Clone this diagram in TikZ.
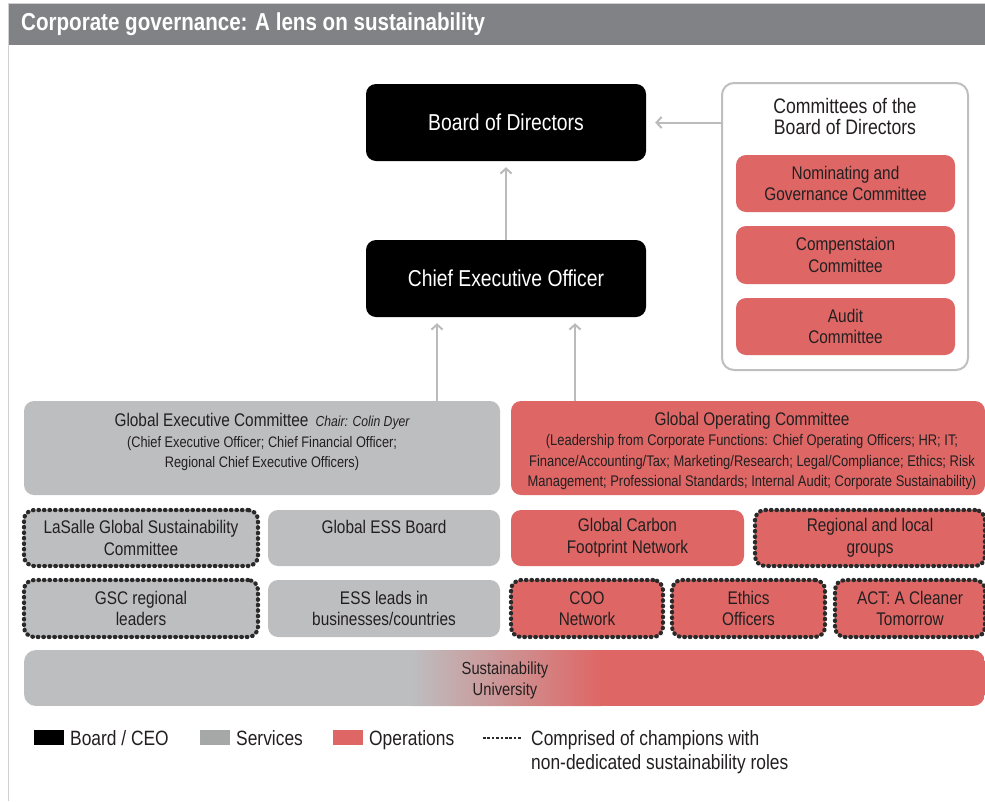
\documentclass[tikz,border=0pt]{standalone}
\usepackage{fontspec}
\setmainfont{Liberation Sans}[FakeStretch=0.84]
\usetikzlibrary{arrows.meta,calc}
\definecolor{redop}{HTML}{DE6766}
\definecolor{grsv}{HTML}{BDBEC0}
\definecolor{grleg}{HTML}{A6A8A8}
\definecolor{titlebar}{HTML}{808285}
\definecolor{arrgray}{HTML}{BBBBBB}
\definecolor{txt}{HTML}{231F20}
\definecolor{dotc}{HTML}{2A2A2A}
\begin{document}
\begin{tikzpicture}[x=1pt,y=-1pt,
  base/.style={rounded corners=10pt,align=center,text=txt,inner sep=2pt},
  blackbox/.style={base,fill=black,text=white,minimum width=280pt,minimum height=77pt,font=\fontsize{23}{26}\selectfont},
  redbox/.style={base,fill=redop,font=\fontsize{18.3}{21.5}\selectfont},
  graybox/.style={base,fill=grsv,font=\fontsize{18.3}{21.5}\selectfont},
  dotted border/.style={draw=dotc,line width=4.2pt,line cap=round,dash pattern=on 0.6pt off 4.9pt},
  arr/.style={draw=arrgray,line width=2pt,-{Straight Barb[length=5pt,width=11pt,line width=2pt]}},
  legtext/.style={anchor=base west,text=txt,font=\fontsize{20.7}{24.5}\selectfont,inner sep=0pt}
]
\useasboundingbox (0,0) rectangle (985,801);
% frame and title
\draw[draw=black!18,line width=1pt] (8.5,3) -- (8.5,801);
\draw[draw=black!18,line width=1pt] (8.5,3) -- (985,3);
\fill[titlebar] (9,4) rectangle (985,45);
\node[anchor=west,text=white,font=\bfseries\fontsize{24.5}{28}\selectfont,inner sep=0pt] (title) at (21,24) {Corporate governance: A lens on sustainability};

% board and ceo
\node[blackbox] (bod) at (506,122.5) {Board of Directors};
\node[blackbox] (ceo) at (506,278.5) {Chief Executive Officer};

% committees frame
\node[draw=black!25,line width=2pt,fill=white,rounded corners=12pt,minimum width=246pt,minimum height=287pt] (frame) at (845,226.5) {};
\node[align=center,text=txt,font=\fontsize{21}{21.5}\selectfont] (ftitle) at (845,116.5) {Committees of the\\Board of Directors};
\node[redbox,minimum width=219pt,minimum height=57pt] (nom) at (845.5,183.5) {Nominating and\\Governance Committee};
\node[redbox,minimum width=219pt,minimum height=58pt] (comp) at (845.5,255) {Compenstaion\\Committee};
\node[redbox,minimum width=219pt,minimum height=57pt] (aud) at (845.5,326.5) {Audit\\Committee};

% arrows
\draw[arr,shorten >=6pt] (ceo.north) -- (bod.south);
\coordinate (fl) at (frame.west |- bod.east);
\draw[arr,shorten >=9pt] (fl) -- (bod.east);

% global committees
\node[graybox,minimum width=476pt,minimum height=94pt] (gec) at (262,448) {};
\node[align=center,text=txt,inner sep=0pt,font=\fontsize{15.2}{20.5}\selectfont] (gectext) at (262,442)
 {{\fontsize{18.3}{20.5}\selectfont Global Executive Committee}\ \ {\itshape\fontsize{14.5}{20.5}\selectfont Chair: Colin Dyer}\\
  (Chief Executive Officer; Chief Financial Officer;\\
  Regional Chief Executive Officers)};
\node[redbox,minimum width=474pt,minimum height=94pt] (goc) at (748,448) {};
\node[align=center,text=txt,inner sep=0pt,font=\fontsize{15.4}{20.3}\selectfont] (goctext) at (752,451)
 {{\fontsize{18.3}{20.3}\selectfont Global Operating Committee}\\
  (Leadership from Corporate Functions: Chief Operating Officers; HR; IT;\\
  Finance/Accounting/Tax; Marketing/Research; Legal/Compliance; Ethics; Risk\\
  Management; Professional Standards; Internal Audit; Corporate Sustainability)};

\coordinate (g1) at (437,401);
\coordinate (g2) at (575,401);
\draw[arr,shorten >=6pt] (g1) -- (g1 |- ceo.south);
\draw[arr,shorten >=6pt] (g2) -- (g2 |- ceo.south);

% row 2
\node[graybox,minimum width=234pt,minimum height=56pt,dotted border] (lasalle) at (141,538) {LaSalle Global Sustainability\\Committee};
\node[graybox,minimum width=232pt,minimum height=56pt] (essb) at (384,538) {Global ESS Board\\\mbox{}};
\node[redbox,minimum width=233pt,minimum height=56pt] (carbon) at (627.5,538) {Global Carbon\\Footprint Network};
\node[redbox,minimum width=230pt,minimum height=56pt,dotted border] (regional) at (870,538) {Regional and local\\groups};

% row 3
\node[graybox,minimum width=234pt,minimum height=57pt,dotted border] (gsc) at (141,608.5) {GSC regional\\leaders};
\node[graybox,minimum width=232pt,minimum height=57pt] (essl) at (384,608.5) {ESS leads in\\businesses/countries};
\node[redbox,minimum width=152pt,minimum height=57pt,dotted border] (coo) at (587,608.5) {COO\\Network};
\node[redbox,minimum width=153pt,minimum height=57pt,dotted border] (eth) at (748.5,608.5) {Ethics\\Officers};
\node[redbox,minimum width=150pt,minimum height=57pt,dotted border] (act) at (910,608.5) {ACT: A Cleaner\\Tomorrow};

% sustainability university
\begin{scope}
\clip[rounded corners=12pt] (24,650) rectangle (985,706);
\fill[grsv] (24,650) rectangle (412,706);
\shade[left color=grsv,right color=redop] (411,650) rectangle (601,706);
\fill[redop] (600,650) rectangle (985,706);
\end{scope}
\node[align=center,text=txt,font=\fontsize{17.5}{21}\selectfont,minimum width=961pt,minimum height=56pt] (univ) at (505,680) {Sustainability\\University};

% legend
\fill[black] (34,730) rectangle (64,745);
\node[legtext] (l1) at (70,745.5) {Board / CEO};
\fill[grleg] (200,730) rectangle (230,745);
\node[legtext] (l2) at (236,745.5) {Services};
\fill[redop] (333,730) rectangle (363,745);
\node[legtext] (l3) at (369,745.5) {Operations};
\draw[draw=dotc,line width=2.6pt,dash pattern=on 2.6pt off 1.8pt] (483,738) -- (521,738);
\node[legtext,align=left,anchor=north west] (l4) at (531,730) {Comprised of champions with\\non-dedicated sustainability roles};
\end{tikzpicture}
\end{document}
